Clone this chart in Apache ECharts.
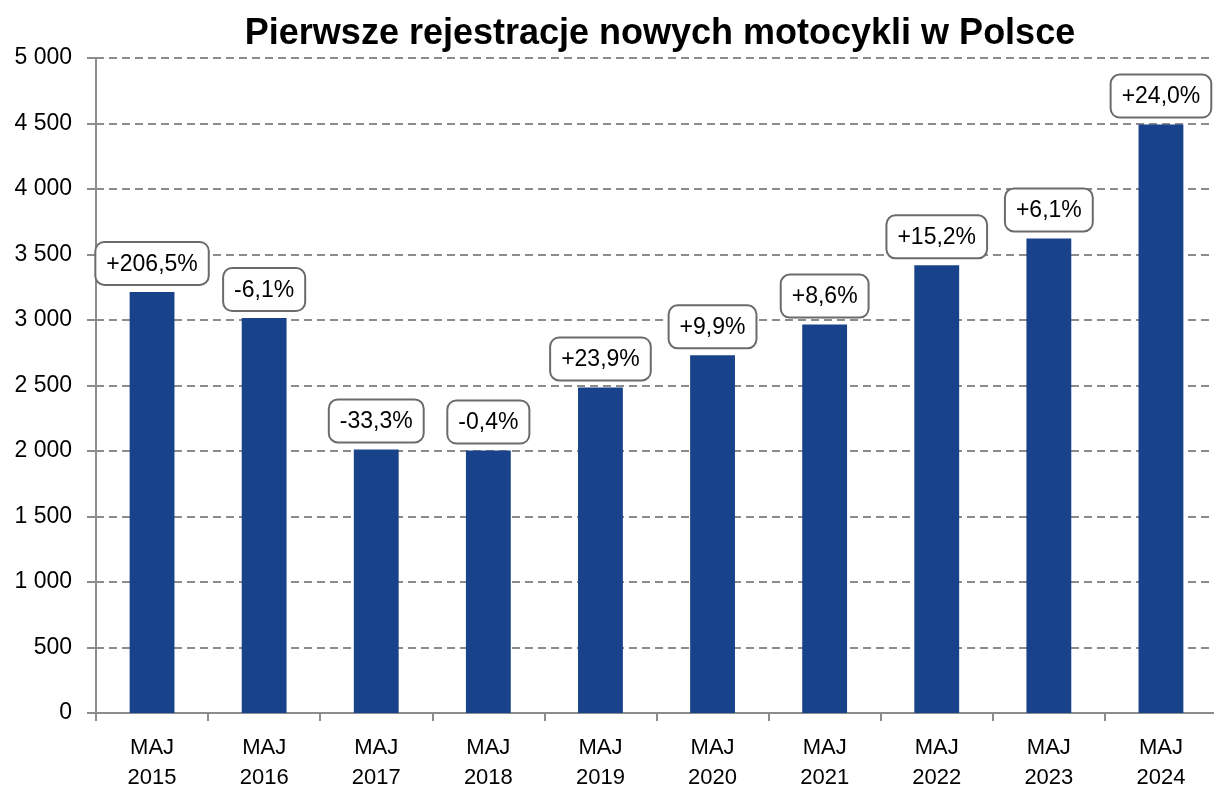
<!DOCTYPE html>
<html>
<head>
<meta charset="utf-8">
<script src="https://cdn.jsdelivr.net/npm/echarts@6/dist/echarts.min.js"></script>
<style>
  html, body { margin: 0; padding: 0; background: #fff; }
  #chart { width: 1214px; height: 789px; }
</style>
</head>
<body>
<div id="chart"></div>
<script>
const categories = ['MAJ\n2015', 'MAJ\n2016', 'MAJ\n2017', 'MAJ\n2018', 'MAJ\n2019',
  'MAJ\n2020', 'MAJ\n2021', 'MAJ\n2022', 'MAJ\n2023', 'MAJ\n2024'];
const registrations = [3214, 3015, 2012, 2004, 2485, 2730, 2965, 3417, 3623, 4492];
const changeLabels = ['+206,5%', '-6,1%', '-33,3%', '-0,4%', '+23,9%',
  '+9,9%', '+8,6%', '+15,2%', '+6,1%', '+24,0%'];

const myChart = echarts.init(document.getElementById('chart'));
const font = 'Liberation Sans, Arial, sans-serif';

const option = {
  animation: false,
  title: {
    text: 'Pierwsze rejestracje nowych motocykli w Polsce',
    left: 655,
    textAlign: 'center',
    top: 11,
    textStyle: { fontFamily: font, fontSize: 36, fontWeight: 'bold', color: '#000' }
  },
  // grid runs a few px past the right edge, as in the original
  grid: { left: 96, top: 58, width: 1121, bottom: 76, outerBoundsMode: 'none', containLabel: false },
  xAxis: {
    type: 'category',
    data: categories,
    axisLine: { lineStyle: { color: '#8c8c8c', width: 2 } },
    axisTick: { show: true, length: 8, lineStyle: { color: '#8c8c8c', width: 2 } },
    axisLabel: { color: '#000', fontFamily: font, fontSize: 22, lineHeight: 30, margin: 20 }
  },
  yAxis: {
    type: 'value',
    min: 0,
    max: 5000,
    interval: 500,
    axisLine: { show: true, lineStyle: { color: '#8c8c8c', width: 2 } },
    axisTick: { show: true, length: 9, lineStyle: { color: '#8c8c8c', width: 2 } },
    axisLabel: {
      color: '#000', fontFamily: font, fontSize: 23, margin: 24,
      formatter: v => v >= 1000 ? Math.floor(v / 1000) + ' ' + String(v % 1000).padStart(3, '0') : String(v)
    },
    splitLine: { lineStyle: { color: '#8c8c8c', width: 2, type: [8, 5] } }
  },
  series: [
    {
      type: 'bar',
      data: registrations,
      barWidth: '40%',
      itemStyle: { color: '#18428A' },
      label: {
        show: true,
        position: 'top',
        distance: 8,
        formatter: p => changeLabels[p.dataIndex],
        fontFamily: font,
        fontSize: 23,
        color: '#000',
        backgroundColor: '#fff',
        borderColor: '#6b6b6b',
        borderWidth: 2,
        borderRadius: 8,
        padding: [10, 10, 8, 10]
      }
    }
  ]
};

myChart.setOption(option);
</script>
</body>
</html>
